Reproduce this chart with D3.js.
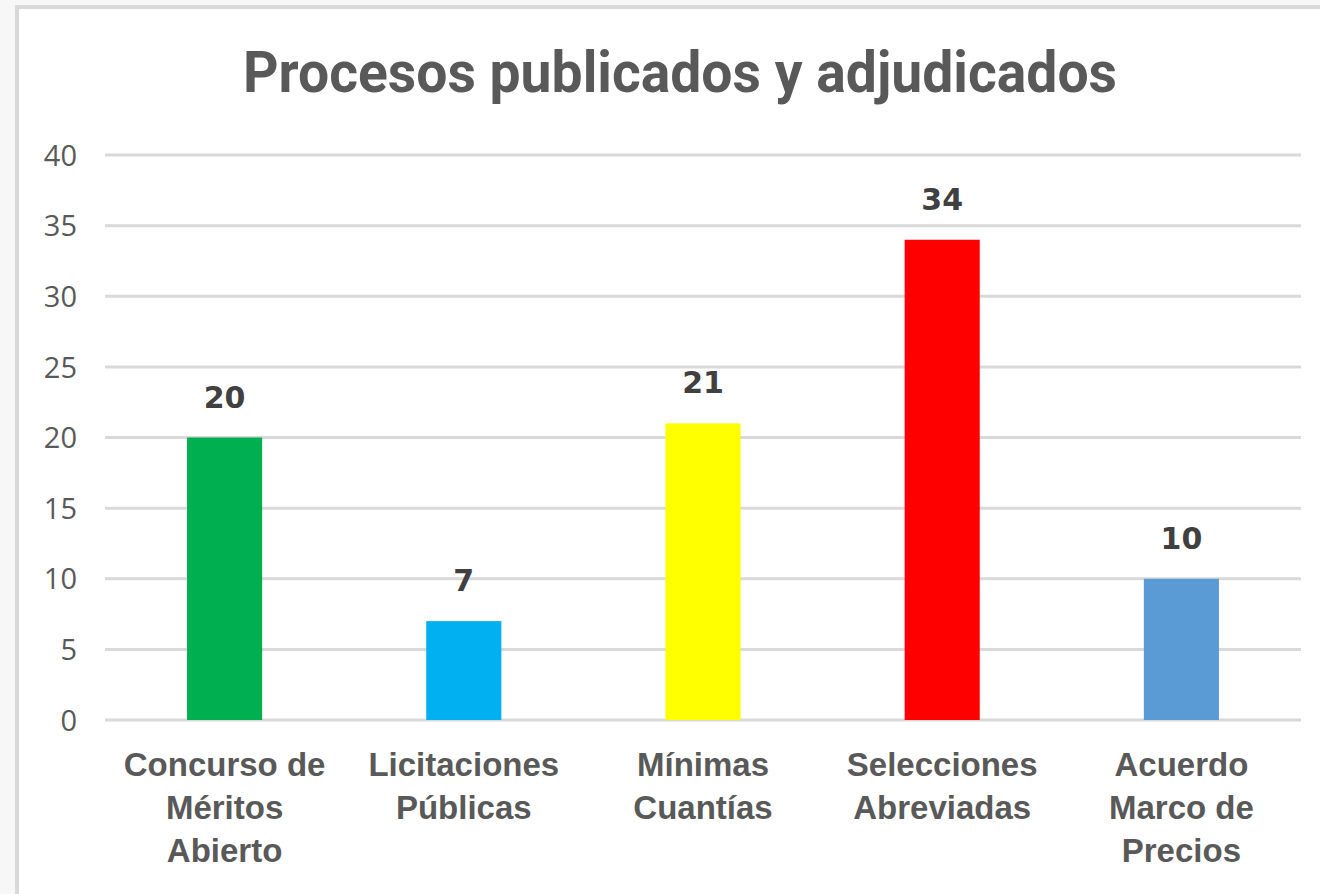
<!DOCTYPE html>
<html><head><meta charset="utf-8">
<script src="https://cdn.jsdelivr.net/npm/d3@7"></script>
<style>html,body{margin:0;padding:0;background:#fff;overflow:hidden;}svg{display:block;}</style>
</head><body>
<svg id="chart" width="1320" height="894"></svg>
<script>
const title = "Procesos publicados y adjudicados";
const categories = [
  ["Concurso de", "Méritos", "Abierto"],
  ["Licitaciones", "Públicas"],
  ["Mínimas", "Cuantías"],
  ["Selecciones", "Abreviadas"],
  ["Acuerdo", "Marco de", "Precios"]
];
const values = [20, 7, 21, 34, 10];
const colors = ["#00b050", "#00b0f0", "#ffff00", "#ff0000", "#5b9bd5"];
const yTicks = [0, 5, 10, 15, 20, 25, 30, 35, 40];

const svg = d3.select("#chart");
// outer frame
svg.append("rect").attr("x", 0).attr("y", 0).attr("width", 1320).attr("height", 894).attr("fill", "#f7f7f7");
svg.append("rect").attr("x", 17).attr("y", 7).attr("width", 1400).attr("height", 1000)
  .attr("fill", "#fff").attr("stroke", "#d9d9d9").attr("stroke-width", 4);

const plot = {left: 105, right: 1301, top: 155, bottom: 720};
const x = d3.scaleBand().domain(d3.range(values.length)).range([plot.left, plot.right]).padding(0);
const y = d3.scaleLinear().domain([0, 40]).range([plot.bottom, plot.top]);
const barW = x.bandwidth() * 0.314;

// gridlines
svg.append("g").selectAll("line").data(yTicks).join("line")
  .attr("x1", plot.left).attr("x2", plot.right)
  .attr("y1", d => y(d)).attr("y2", d => y(d))
  .attr("stroke", "#d9d9d9").attr("stroke-width", 3);

// y axis labels
const yAxis = d3.axisLeft(y).tickValues(yTicks).tickSize(0).tickPadding(0);
const gy = svg.append("g").attr("transform", "translate(77,0)").call(yAxis);
gy.select(".domain").remove();
gy.selectAll("text").attr("font-family", "'Open Sans', sans-serif").attr("font-size", 29)
  .attr("fill", "#595959").attr("dy", "0.35em");

// bars
svg.append("g").selectAll("rect").data(values).join("rect")
  .attr("x", (d, i) => x(i) + x.bandwidth() / 2 - barW / 2)
  .attr("width", barW)
  .attr("y", d => y(d))
  .attr("height", d => y(0) - y(d))
  .attr("fill", (d, i) => colors[i]);

// value labels
svg.append("g").selectAll("text").data(values).join("text")
  .attr("x", (d, i) => x(i) + x.bandwidth() / 2)
  .attr("y", d => y(d) - 30)
  .attr("text-anchor", "middle")
  .attr("font-family", "'DejaVu Sans', sans-serif").attr("font-weight", "bold")
  .attr("font-size", 30).attr("fill", "#404040")
  .text(d => d);

// category labels
const cat = svg.append("g").selectAll("text").data(categories).join("text")
  .attr("x", (d, i) => x(i) + x.bandwidth() / 2)
  .attr("y", 776)
  .attr("text-anchor", "middle")
  .attr("font-family", "'Liberation Sans', Arial, sans-serif").attr("font-weight", "bold")
  .attr("font-size", 33).attr("fill", "#595959");
cat.selectAll("tspan").data(d => d).join("tspan")
  .attr("x", function() { return this.parentNode.getAttribute("x"); })
  .attr("dy", (d, j) => j === 0 ? 0 : 43)
  .text(d => d);

// title
svg.append("text").attr("x", 680).attr("y", 92).attr("text-anchor", "middle")
  .attr("font-family", "Roboto, 'Liberation Sans', sans-serif").attr("font-weight", "bold")
  .attr("font-size", 57).attr("fill", "#595959")
  .attr("textLength", 874).attr("lengthAdjust", "spacingAndGlyphs")
  .text(title);
</script>
</body></html>
